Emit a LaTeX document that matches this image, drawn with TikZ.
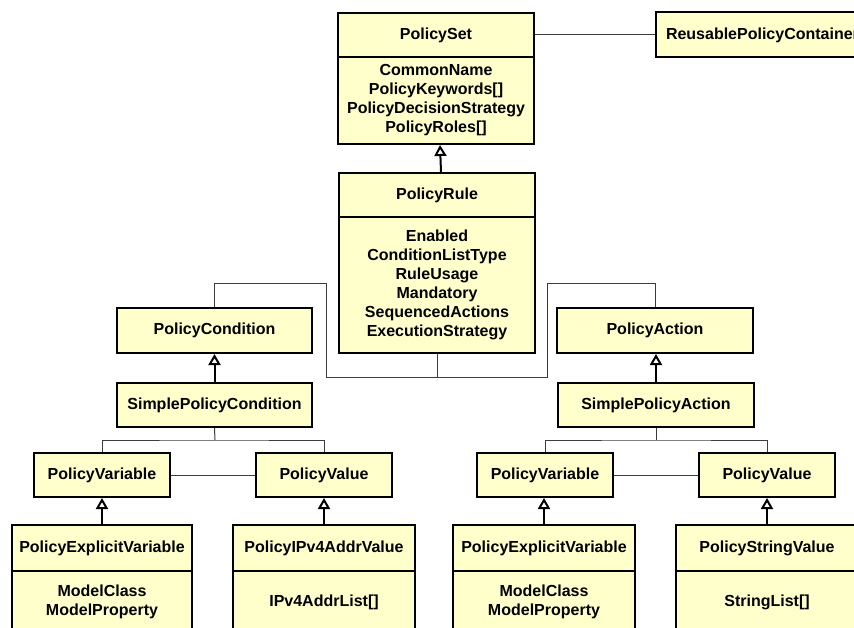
\documentclass[tikz,border=0pt]{standalone}
\usepackage{fontspec}
\setmainfont{Liberation Sans}
\usetikzlibrary{arrows.meta}
\definecolor{classfill}{RGB}{255,255,204}
\definecolor{assocline}{RGB}{60,60,60}
\begin{document}
\begin{tikzpicture}[x=1pt,y=-1pt,
  font=\fontsize{16}{19}\selectfont\bfseries,
  classbox/.style={draw=black,line width=2pt,fill=classfill,
    minimum height=44pt,inner sep=0pt,align=center},
  attrbox/.style={classbox},
  assoc/.style={draw=assocline,line width=1pt},
  inherit/.style={draw=black,line width=2pt,
    -{Triangle[open,length=11pt,width=12pt,fill=white]}}]
\useasboundingbox (0,0) rectangle (854,628);
\clip (0,0) rectangle (854,628);

% top: PolicySet and its container
\node[classbox,minimum width=196pt] (ps) at (436,35) {PolicySet};
\node[attrbox,minimum width=196pt,minimum height=87pt] (psa) at (436,100.5)
  {CommonName\\PolicyKeywords[]\\PolicyDecisionStrategy\\PolicyRoles[]};
\node[classbox,anchor=west,inner xsep=10pt,minimum height=45pt] (rpc) at (655,35)
  {ReusablePolicyContainer};

% PolicyRule
\node[classbox,minimum width=196pt] (pr) at (437,195) {PolicyRule};
\node[attrbox,minimum width=196pt,minimum height=136pt] (pra) at (437,285)
  {Enabled\\ConditionListType\\RuleUsage\\Mandatory\\SequencedActions\\ExecutionStrategy};

% condition / action
\node[classbox,minimum width=195pt,minimum height=45pt] (pc) at (214.5,330.5) {PolicyCondition};
\node[classbox,minimum width=196pt,minimum height=45pt] (pa) at (655,330.5) {PolicyAction};
\node[classbox,minimum width=195pt] (spc) at (214.5,405) {SimplePolicyCondition};
\node[classbox,minimum width=196pt] (spa) at (656,405) {SimplePolicyAction};

% variables and values
\node[classbox,minimum width=136pt] (lvar) at (102,475) {PolicyVariable};
\node[classbox,minimum width=136pt] (lval) at (324,475) {PolicyValue};
\node[classbox,minimum width=136pt] (rvar) at (545,475) {PolicyVariable};
\node[classbox,minimum width=136pt] (rval) at (767,475) {PolicyValue};

% leaf classes
\node[classbox,minimum width=180pt,minimum height=46pt] (lexp) at (102,548) {PolicyExplicitVariable};
\node[attrbox,minimum width=180pt,minimum height=62pt] (lexpa) at (102,602) {ModelClass\\ModelProperty};
\node[classbox,minimum width=182pt,minimum height=46pt] (ipv) at (324,548) {PolicyIPv4AddrValue};
\node[attrbox,minimum width=182pt,minimum height=62pt] (ipva) at (324,602) {IPv4AddrList[]};
\node[classbox,minimum width=182pt,minimum height=46pt] (rexp) at (544,548) {PolicyExplicitVariable};
\node[attrbox,minimum width=182pt,minimum height=62pt] (rexpa) at (544,602) {ModelClass\\ModelProperty};
\node[classbox,minimum width=182pt,minimum height=46pt] (psv) at (767,548) {PolicyStringValue};
\node[attrbox,minimum width=182pt,minimum height=62pt] (psva) at (767,602) {StringList[]};

% associations
\draw[assoc] (ps.east) -- (rpc.west);
\coordinate (cl) at (326,284);
\coordinate (cr) at (547,284);
\coordinate (busL) at (326,377);
\coordinate (busR) at (547,377);
\draw[assoc] (pc.north) |- (cl) -- (busL) -- (busR) -- (cr) -| (pa.north);
\draw[assoc] (pra.south) -- (pra.south |- busL);

\coordinate (lbus) at (215,440);
\draw[assoc] (lvar.north) |- (lbus) -| (lval.north);
\draw[assoc] (spc.south) -- (lbus);
\draw[assoc] (lvar.east) -- (lval.west);

\coordinate (rbus) at (656,440);
\draw[assoc] (rvar.north) |- (rbus) -| (rval.north);
\draw[assoc] (spa.south) -- (rbus);
\draw[assoc] (rvar.east) -- (rval.west);

% generalisations
\draw[inherit] ([xshift=4pt]pr.north) -- ([xshift=4pt]psa.south);
\draw[inherit] (spc.north) -- (pc.south);
\draw[inherit] (spa.north) -- (spa.north |- pa.south);
\draw[inherit] (lexp.north) -- (lvar.south);
\draw[inherit] (ipv.north) -- (lval.south);
\draw[inherit] (rexp.north) -- (rexp.north |- rvar.south);
\draw[inherit] (psv.north) -- (psv.north |- rval.south);
\end{tikzpicture}
\end{document}
